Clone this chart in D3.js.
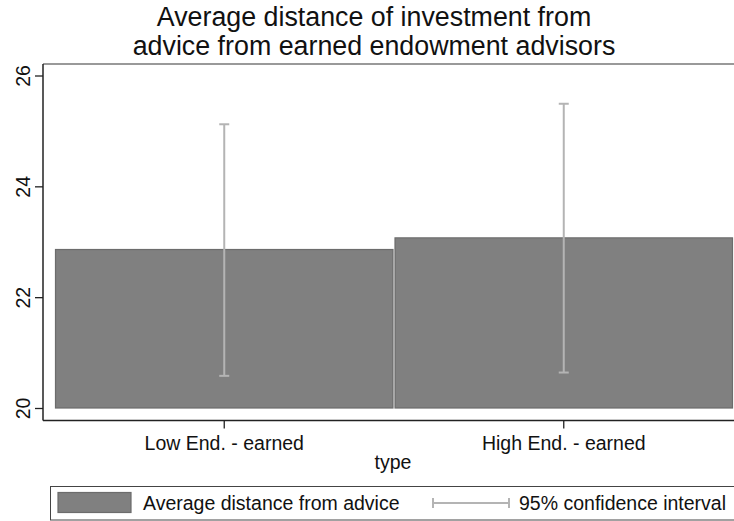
<!DOCTYPE html>
<html>
<head>
<meta charset="utf-8">
<script src="https://cdn.jsdelivr.net/npm/d3@7/dist/d3.min.js"></script>
<style>
  html, body { margin: 0; padding: 0; background: #fff; overflow: hidden; }
  svg { display: block; font-family: "Liberation Sans", Arial, sans-serif; }
</style>
</head>
<body>
<svg id="chart" width="734" height="521"></svg>
<script>
// Group categories and their means with 95% confidence bounds
const categories = ["Low End. - earned", "High End. - earned"];
const means = [22.86, 23.07];
const ciLow = [20.58, 20.64];
const ciHigh = [25.12, 25.49];
const yTicks = [20, 22, 24, 26];
const titleLines = ["Average distance of investment from", "advice from earned endowment advisors"];
const xTitle = "type";
const legendLabels = ["Average distance from advice", "95% confidence interval"];

const svg = d3.select("#chart");

const barFill = "#808080";
const barStroke = "#6c6c6c";
const ciColor = "#b4b4b4";

// plot region
const plot = { left: 43, right: 746, top: 64, bottom: 420.5 };

const y = d3.scaleLinear().domain([20, 26]).range([408, 75.5]);
const x = d3.scaleBand().domain(categories).range([55, 733]).paddingInner(0.003);

// two-line title
svg.append("g").selectAll("text").data(titleLines).join("text")
  .attr("x", 374).attr("y", (d, i) => 25.5 + i * 29.8)
  .attr("text-anchor", "middle")
  .attr("font-size", 26.8)
  .attr("fill", "#111")
  .text(d => d);

// top frame line
svg.append("line")
  .attr("x1", plot.left).attr("x2", plot.right)
  .attr("y1", plot.top).attr("y2", plot.top)
  .attr("stroke", "#777").attr("stroke-width", 1.6);

// bars
const rows = categories.map((c, i) => ({ c, m: means[i], lo: ciLow[i], hi: ciHigh[i] }));
svg.append("g").selectAll("rect").data(rows).join("rect")
  .attr("x", d => x(d.c) + 0.5)
  .attr("width", x.bandwidth() - 1)
  .attr("y", d => y(d.m))
  .attr("height", d => y(20) - y(d.m))
  .attr("fill", barFill)
  .attr("stroke", barStroke)
  .attr("stroke-width", 1.2);

// confidence intervals
const ci = svg.append("g").attr("stroke", ciColor).attr("stroke-width", 2).attr("fill", "none");
rows.forEach(d => {
  const cx = x(d.c) + x.bandwidth() / 2;
  ci.append("line").attr("x1", cx).attr("x2", cx).attr("y1", y(d.lo)).attr("y2", y(d.hi));
  ci.append("line").attr("x1", cx - 5).attr("x2", cx + 5).attr("y1", y(d.lo)).attr("y2", y(d.lo));
  ci.append("line").attr("x1", cx - 5).attr("x2", cx + 5).attr("y1", y(d.hi)).attr("y2", y(d.hi));
});

// y axis
const yAxis = svg.append("g").attr("transform", `translate(${plot.left},0)`)
  .call(d3.axisLeft(y).tickValues(yTicks).tickFormat(d3.format("d"))
    .tickSize(8).tickPadding(11).tickSizeOuter(0));
yAxis.select(".domain").remove();
yAxis.selectAll(".tick line").attr("stroke", "#222").attr("stroke-width", 1.3);
yAxis.selectAll(".tick text")
  .attr("font-size", 19.5).attr("fill", "#111")
  .attr("font-family", "'Liberation Sans', Arial, sans-serif")
  .attr("transform", "rotate(-90)")
  .attr("x", 0).attr("y", -13)
  .attr("dy", 0)
  .attr("text-anchor", "middle");
svg.append("line")
  .attr("x1", plot.left).attr("x2", plot.left)
  .attr("y1", plot.top).attr("y2", plot.bottom)
  .attr("stroke", "#222").attr("stroke-width", 1.5);

// x axis
const xAxis = svg.append("g").attr("transform", `translate(0,${plot.bottom})`)
  .call(d3.axisBottom(x).tickSize(8).tickPadding(8).tickSizeOuter(0));
xAxis.select(".domain").remove();
xAxis.selectAll(".tick line").attr("stroke", "#222").attr("stroke-width", 1.3);
xAxis.selectAll(".tick text")
  .attr("font-size", 19.5).attr("fill", "#111")
  .attr("font-family", "'Liberation Sans', Arial, sans-serif");
svg.append("line")
  .attr("x1", plot.left).attr("x2", plot.right)
  .attr("y1", plot.bottom).attr("y2", plot.bottom)
  .attr("stroke", "#222").attr("stroke-width", 1.5);

svg.append("text")
  .attr("x", 393).attr("y", 469)
  .attr("text-anchor", "middle")
  .attr("font-size", 19.5).attr("fill", "#111")
  .text(xTitle);

// legend
const lg = svg.append("g");
lg.append("rect")
  .attr("x", 50.5).attr("y", 486.5).attr("width", 700).attr("height", 33.5)
  .attr("fill", "#fff").attr("stroke", "#444").attr("stroke-width", 1);
lg.append("rect")
  .attr("x", 58).attr("y", 492.5).attr("width", 73).attr("height", 20)
  .attr("fill", barFill).attr("stroke", barStroke).attr("stroke-width", 1.2);
lg.append("text").attr("x", 143).attr("y", 510)
  .attr("font-size", 19.5).attr("fill", "#111").text(legendLabels[0]);
const lgCi = lg.append("g").attr("stroke", ciColor).attr("stroke-width", 2);
lgCi.append("line").attr("x1", 433).attr("x2", 509).attr("y1", 503).attr("y2", 503);
lgCi.append("line").attr("x1", 433).attr("x2", 433).attr("y1", 498).attr("y2", 508);
lgCi.append("line").attr("x1", 509).attr("x2", 509).attr("y1", 498).attr("y2", 508);
lg.append("text").attr("x", 519).attr("y", 510)
  .attr("font-size", 19.5).attr("fill", "#111").text(legendLabels[1]);
</script>
</body>
</html>
